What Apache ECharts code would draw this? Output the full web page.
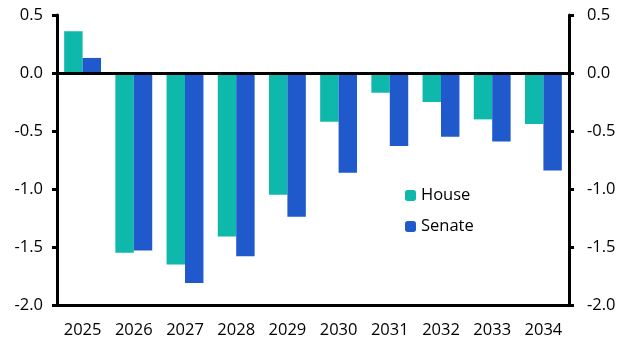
<!DOCTYPE html>
<html><head><meta charset="utf-8">
<script src="https://cdn.jsdelivr.net/npm/echarts@6/dist/echarts.min.js"></script>
<style>html,body{margin:0;padding:0;background:#fff}#c{width:632px;height:357px}</style>
</head><body><div id="c"></div>
<script>
const categories = ['2025','2026','2027','2028','2029','2030','2031','2032','2033','2034'];
const house = [0.36,-1.55,-1.65,-1.41,-1.05,-0.42,-0.17,-0.25,-0.40,-0.44];
const senate = [0.13,-1.53,-1.81,-1.58,-1.24,-0.86,-0.63,-0.55,-0.59,-0.84];
const yTicks = [-2.0,-1.5,-1.0,-0.5,0.0,0.5];

const font = 'Open Sans';
const fs = 16.5;
const chart = echarts.init(document.getElementById('c'));
const yAxisBase = {
  type:'value', min:-2, max:0.5, interval:0.5,
  axisLine:{show:true,lineStyle:{color:'#000',width:3}},
  axisTick:{show:true,length:5,lineStyle:{color:'#000',width:3}},
  splitLine:{show:false},
  axisLabel:{color:'#000',fontFamily:font,fontSize:fs,formatter:v=>v.toFixed(1)}
};
chart.setOption({
  animation:false,
  textStyle:{fontFamily:font},
  grid:{left:57,right:63,top:15,bottom:52},
  legend:{
    orient:'vertical', left:400, top:182, itemWidth:11, itemHeight:11, itemGap:14,
    textStyle:{color:'#000',fontSize:fs,fontFamily:font},
    data:['House','Senate']
  },
  xAxis:{
    type:'category', data:categories,
    axisLine:{onZero:false,lineStyle:{color:'#000',width:3}},
    axisTick:{show:false},
    axisLabel:{color:'#000',fontSize:fs,fontFamily:font,margin:17}
  },
  yAxis:[
    Object.assign({},yAxisBase,{position:'left',axisLabel:Object.assign({},yAxisBase.axisLabel,{margin:14})}),
    Object.assign({},yAxisBase,{position:'right',axisLabel:Object.assign({},yAxisBase.axisLabel,{margin:18})})
  ],
  series:[
    {name:'House',type:'bar',data:house,itemStyle:{color:'#0eb8aa'},barGap:'0%',barCategoryGap:'28%',
     markLine:{silent:true,symbol:'none',label:{show:false},lineStyle:{color:'#000',width:3,type:'solid'},data:[{yAxis:0}]}},
    {name:'Senate',type:'bar',data:senate,itemStyle:{color:'#1f59cc'},barGap:'0%',barCategoryGap:'28%'}
  ]
});
</script></body></html>
